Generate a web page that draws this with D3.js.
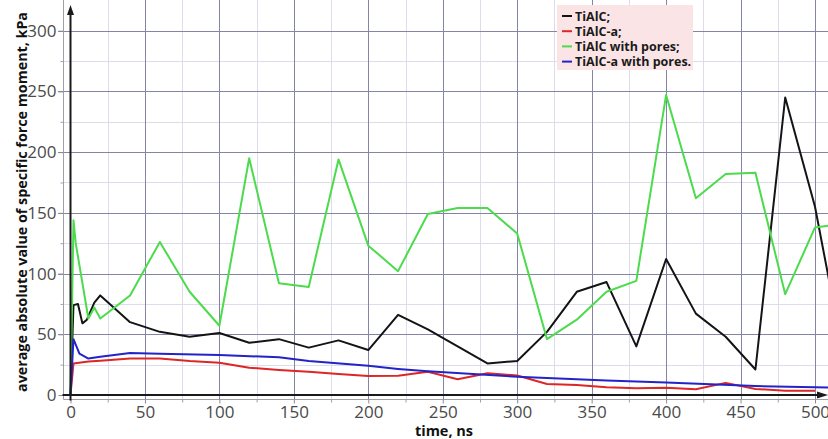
<!DOCTYPE html>
<html>
<head>
<meta charset="utf-8">
<script src="https://cdn.jsdelivr.net/npm/d3@7/dist/d3.min.js"></script>
<style>
  html, body { margin: 0; padding: 0; background: #fff; }
  svg { display: block; }
  .tick text { font-family: "Open Sans", sans-serif; font-size: 17px; fill: #4a4a4a; }
</style>
</head>
<body>
<svg id="chart" width="828" height="439"></svg>
<script>
// Series samples: time (ns) and average absolute specific force moment (kPa)
const tialcTime = [0, 2, 5, 8, 11, 16, 20, 40, 60, 80, 100, 120, 140, 160, 180, 200, 220, 240, 260, 280, 300, 320, 340, 360, 380, 400, 420, 440, 460, 480, 500, 520];
const tialcVal  = [0, 74, 75, 59, 62, 76, 82, 60, 52, 48, 51, 43, 46, 39, 45, 37, 66, 54, 40, 26, 28, 52, 85, 93, 40, 112, 67, 48, 21, 245, 155, 27];

const tialcATime = [0, 2, 12, 20, 40, 60, 80, 100, 120, 140, 160, 180, 200, 220, 240, 260, 280, 300, 320, 340, 360, 380, 400, 420, 440, 460, 480, 500];
const tialcAVal  = [0, 26, 27.5, 28.3, 30, 30, 28, 26.6, 22.5, 20.6, 19.2, 17.3, 15.7, 15.9, 19.2, 13, 17.9, 16, 9, 8.2, 6.3, 5.5, 6, 4.7, 10, 5, 3.6, 3.6];

const poresTime = [0, 2, 3.5, 12, 16, 20, 40, 60, 80, 100, 120, 140, 160, 180, 200, 220, 240, 260, 280, 300, 320, 340, 360, 380, 400, 420, 440, 460, 480, 500, 520];
const poresVal  = [0, 144, 125, 63, 72, 63, 82, 126, 85, 57, 195, 92, 89, 194, 123, 102, 149, 154, 154, 133, 46, 62, 85, 94, 247, 162, 182, 183, 83, 138, 141];

const poresATime = [0, 2, 6, 12, 20, 40, 60, 100, 140, 160, 200, 220, 240, 300, 360, 400, 460, 520];
const poresAVal  = [0, 46, 34, 30, 31.5, 34.5, 34, 33, 31, 28, 24, 21.5, 19.5, 15, 12, 10.2, 7.4, 5.8];

const seriesNames  = ["TiAlC;", "TiAlC-a;", "TiAlC with pores;", "TiAlC-a with pores."];
const seriesColors = ["#141414", "#dd2626", "#4cdb4c", "#2323c8"];

const xTicks = [0, 50, 100, 150, 200, 250, 300, 350, 400, 450, 500];
const yTicks = [0, 50, 100, 150, 200, 250, 300];
const xMinor = d3.range(0, 525, 25);
const yMinor = d3.range(0, 325, 25);

const xTitle = "time, ns";
const yTitle = "average absolute value of specific force moment, kPa";

const series = [
  { name: seriesNames[0], color: seriesColors[0], t: tialcTime,  v: tialcVal },
  { name: seriesNames[1], color: seriesColors[1], t: tialcATime, v: tialcAVal },
  { name: seriesNames[2], color: seriesColors[2], t: poresTime,  v: poresVal },
  { name: seriesNames[3], color: seriesColors[3], t: poresATime, v: poresAVal }
];

const W = 828, H = 439;
const svg = d3.select("#chart");

const x = d3.scaleLinear().domain([0, 500]).range([70.5, 815]);
const y = d3.scaleLinear().domain([0, 300]).range([395, 30.7]);

const frameX = 63.5;   // light frame line carrying the y ticks
const frameY = 399.5;  // light frame line carrying the x ticks
const rightEdge = W;

// clip for the plotting area
svg.append("defs").append("clipPath").attr("id", "plotClip")
  .append("rect").attr("x", frameX).attr("y", 0)
  .attr("width", rightEdge - frameX).attr("height", frameY);

// minor grid
const grid = svg.append("g");
grid.selectAll("line.vminor").data(xMinor.filter(d => d % 50 !== 0)).join("line")
  .attr("x1", d => Math.round(x(d)) + 0.5).attr("x2", d => Math.round(x(d)) + 0.5)
  .attr("y1", 0).attr("y2", frameY)
  .attr("stroke", "#dcdcea").attr("stroke-width", 1);
grid.selectAll("line.hminor").data(yMinor.filter(d => d % 50 !== 0)).join("line")
  .attr("y1", d => Math.round(y(d)) + 0.5).attr("y2", d => Math.round(y(d)) + 0.5)
  .attr("x1", frameX).attr("x2", rightEdge)
  .attr("stroke", "#dcdcea").attr("stroke-width", 1);

// major grid
grid.selectAll("line.vmajor").data(xTicks.filter(d => d > 0)).join("line")
  .attr("x1", d => Math.round(x(d)) + 0.5).attr("x2", d => Math.round(x(d)) + 0.5)
  .attr("y1", 0).attr("y2", frameY)
  .attr("stroke", "#8484a4").attr("stroke-width", 1);
grid.selectAll("line.hmajor").data(yTicks.filter(d => d > 0)).join("line")
  .attr("y1", d => Math.round(y(d)) + 0.5).attr("y2", d => Math.round(y(d)) + 0.5)
  .attr("x1", 58).attr("x2", rightEdge)
  .attr("stroke", "#8484a4").attr("stroke-width", 1);

// light frame lines
svg.append("line").attr("x1", frameX).attr("x2", frameX).attr("y1", 0).attr("y2", frameY)
  .attr("stroke", "#a0a0a8").attr("stroke-width", 1);
svg.append("line").attr("x1", frameX).attr("x2", rightEdge).attr("y1", frameY).attr("y2", frameY)
  .attr("stroke", "#a0a0a8").attr("stroke-width", 1);

// axes with labels
const yAxis = d3.axisLeft(y).tickValues(yTicks).tickSize(5).tickPadding(2).tickSizeOuter(0);
const gy = svg.append("g").attr("transform", `translate(${frameX},0)`).call(yAxis);
gy.select(".domain").remove();
gy.selectAll(".tick line").attr("stroke", "#8a8a96");

const yAxisMinor = d3.axisLeft(y).tickValues(yMinor.filter(d => d % 50 !== 0)).tickSize(3).tickFormat("").tickSizeOuter(0);
const gym = svg.append("g").attr("transform", `translate(${frameX},0)`).call(yAxisMinor);
gym.select(".domain").remove();
gym.selectAll(".tick line").attr("stroke", "#a0a0a8");

const xAxis = d3.axisBottom(x).tickValues(xTicks).tickSize(4).tickPadding(2).tickSizeOuter(0);
const gx = svg.append("g").attr("transform", `translate(0,${frameY})`).call(xAxis);
gx.select(".domain").remove();
gx.selectAll(".tick line").attr("stroke", "#8a8a96");

const xAxisMinor = d3.axisBottom(x).tickValues(xMinor.filter(d => d % 50 !== 0)).tickSize(3).tickFormat("").tickSizeOuter(0);
const gxm = svg.append("g").attr("transform", `translate(0,${frameY})`).call(xAxisMinor);
gxm.select(".domain").remove();
gxm.selectAll(".tick line").attr("stroke", "#a0a0a8");

// data lines
const line = d3.line().x(d => x(d[0])).y(d => y(d[1]));
const plot = svg.append("g").attr("clip-path", "url(#plotClip)");
series.forEach(s => {
  const pts = s.t.map((t, i) => [t, s.v[i]]);
  plot.append("path").datum(pts)
    .attr("d", line)
    .attr("fill", "none")
    .attr("stroke", s.color)
    .attr("stroke-width", 2)
    .attr("stroke-linejoin", "round");
});

// black arrow axes
const ax0 = x(0), ay0 = y(0);
svg.append("line").attr("x1", ax0).attr("x2", ax0).attr("y1", frameY + 1).attr("y2", 14)
  .attr("stroke", "#1a1a1a").attr("stroke-width", 2);
svg.append("path").attr("d", `M${ax0},5 L${ax0 - 3.5},15 L${ax0 + 3.5},15 Z`).attr("fill", "#1a1a1a");
svg.append("line").attr("x1", frameX - 1).attr("x2", rightEdge - 10).attr("y1", ay0).attr("y2", ay0)
  .attr("stroke", "#1a1a1a").attr("stroke-width", 2);
svg.append("path").attr("d", `M${rightEdge},${ay0} L${rightEdge - 11},${ay0 - 3.5} L${rightEdge - 11},${ay0 + 3.5} Z`).attr("fill", "#1a1a1a");

// axis titles
svg.append("text")
  .attr("x", 444).attr("y", 436)
  .attr("text-anchor", "middle")
  .style("font-family", "'Open Sans', sans-serif").style("font-weight", "bold")
  .style("font-size", "14.5px").attr("fill", "#111")
  .text(xTitle);

svg.append("text")
  .attr("transform", "translate(27,202) rotate(-90)")
  .attr("text-anchor", "middle")
  .attr("textLength", 380).attr("lengthAdjust", "spacingAndGlyphs")
  .style("font-family", "'Open Sans', sans-serif").style("font-weight", "bold")
  .style("font-size", "14.5px").attr("fill", "#111")
  .text(yTitle);

// legend
const lg = svg.append("g");
lg.append("rect").attr("x", 557).attr("y", 5).attr("width", 136).attr("height", 65)
  .attr("fill", "#fbe4e6");
series.forEach((s, i) => {
  const yy = 16 + i * 15.2;
  lg.append("line").attr("x1", 562).attr("x2", 572).attr("y1", yy).attr("y2", yy)
    .attr("stroke", s.color).attr("stroke-width", 2);
  lg.append("text").attr("x", 575).attr("y", yy + 4.5)
    .style("font-family", "'Open Sans', sans-serif").style("font-weight", "bold")
    .style("font-size", "12.5px").attr("fill", "#1a1a1a")
    .text(s.name);
});
</script>
</body>
</html>
